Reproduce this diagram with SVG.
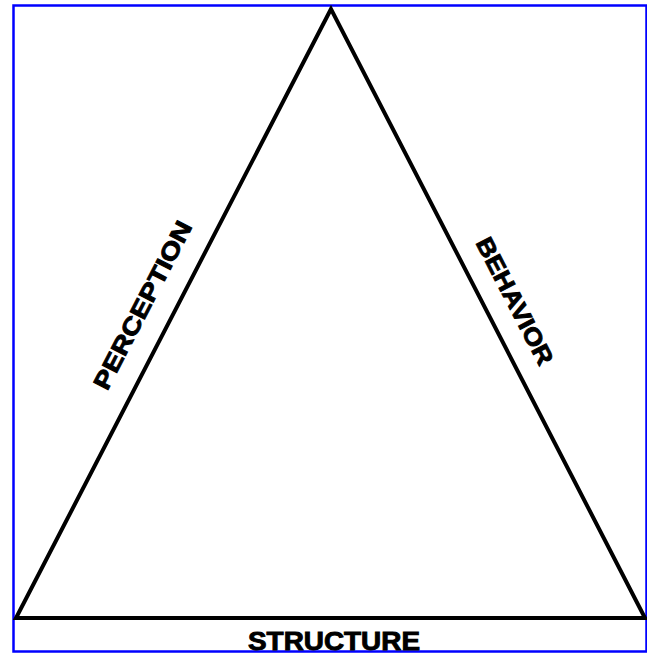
<svg xmlns="http://www.w3.org/2000/svg" width="647" height="654" viewBox="0 0 647 654">
<style>
.lbl{font-family:"Liberation Sans",Arial,sans-serif;font-weight:bold;fill:#000;stroke:#000;stroke-width:0.9;text-anchor:middle}
</style>
<rect x="0" y="0" width="647" height="654" fill="#fff"/>
<rect x="13.5" y="5.5" width="633" height="646" fill="none" stroke="#0000ff" stroke-width="2.5"/>
<g id="connectors">
<polygon points="331,9 16,618 645,618" fill="none" stroke="#000" stroke-width="4" stroke-linejoin="miter"/>
</g>
<g id="perception"><text class="lbl" font-size="24" transform="translate(142.5,305) rotate(-62.65)" y="8.5" textLength="186" lengthAdjust="spacingAndGlyphs">PERCEPTION</text></g>
<g id="behavior"><text class="lbl" font-size="24" transform="translate(515,301) rotate(62.7)" y="8.5" textLength="140" lengthAdjust="spacingAndGlyphs">BEHAVIOR</text></g>
<g id="structure"><text class="lbl" font-size="25" x="334" y="650" textLength="172" lengthAdjust="spacingAndGlyphs">STRUCTURE</text></g>
</svg>
